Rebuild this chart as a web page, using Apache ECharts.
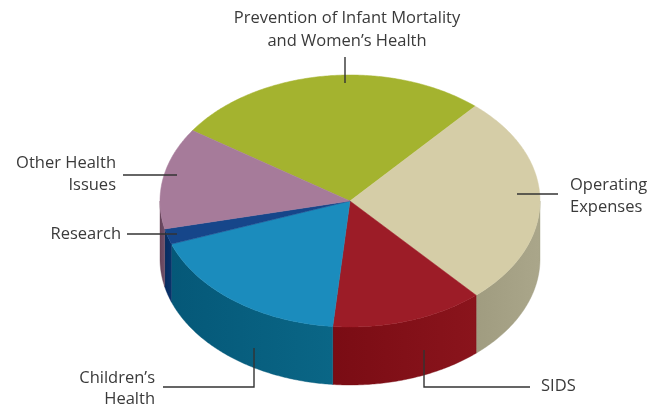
<!DOCTYPE html>
<html>
<head>
<meta charset="utf-8">
<script src="https://cdn.jsdelivr.net/npm/echarts@6/dist/echarts.min.js"></script>
<style>
html, body { margin: 0; padding: 0; background: #fff; }
#main { width: 664px; height: 408px; }
</style>
</head>
<body>
<div id="main"></div>
<script>
// slices, clockwise from the green one
var categories = [
  "Prevention of Infant Mortality and Women’s Health",
  "Operating Expenses",
  "SIDS",
  "Children’s Health",
  "Research",
  "Other Health Issues"
];
var shares = [27, 27, 13, 18, 2, 13];

// colours: top face, side (left end, right end)
var topColors = ["#a4b32f", "#d5cda7", "#9c1c27", "#1b8cbd", "#16468a", "#a67b9a"];
var sideColors = [
  ["#7c8722", "#8a9628"],
  ["#a09c80", "#aaa68a"],
  ["#7a0c14", "#8a141c"],
  ["#055878", "#0a6686"],
  ["#062c60", "#0a336c"],
  ["#664359", "#70506a"]
];

var cx = 350, cy = 201, rx = 190, ry = 126, depth = 58;
var startAngle = 146;
var total = shares.reduce(function (a, b) { return a + b; }, 0);

function rim(t, dy) {
  return [cx + rx * Math.cos(t), cy - ry * Math.sin(t) + dy];
}

function renderSlice(params, api) {
  var i = params.dataIndex;
  var before = 0;
  for (var k = 0; k < i; k++) before += shares[k];
  var a0 = (startAngle - before / total * 360) * Math.PI / 180;
  var a1 = (startAngle - (before + api.value(0)) / total * 360) * Math.PI / 180;
  var children = [];

  // side wall: only the front half (angles in [-PI, 0] + 2kPI)
  for (var m = -1; m <= 1; m++) {
    var lo = Math.max(a1, -Math.PI + 2 * m * Math.PI);
    var hi = Math.min(a0, 2 * m * Math.PI);
    if (hi - lo < 1e-4) continue;
    var n = Math.max(2, Math.ceil((hi - lo) / 0.01));
    var pts = [], j;
    for (j = 0; j <= n; j++) pts.push(rim(hi - (hi - lo) * j / n, 0));
    for (j = n; j >= 0; j--) pts.push(rim(hi - (hi - lo) * j / n, depth));
    var xs = pts.map(function (p) { return p[0]; });
    var x0 = Math.min.apply(null, xs), x1 = Math.max.apply(null, xs);
    children.push({
      type: 'polygon',
      shape: { points: pts },
      style: {
        fill: new echarts.graphic.LinearGradient(x0, 0, x1, 0, [
          { offset: 0, color: sideColors[i][0] },
          { offset: 1, color: sideColors[i][1] }
        ], true),
        stroke: sideColors[i][0],
        lineWidth: 0.4
      }
    });
  }

  // top face
  var steps = Math.max(2, Math.ceil((a0 - a1) / 0.01));
  var top = [[cx, cy]];
  for (var s = 0; s <= steps; s++) top.push(rim(a0 + (a1 - a0) * s / steps, 0));
  children.push({
    type: 'polygon',
    shape: { points: top },
    style: { fill: topColors[i], stroke: topColors[i], lineWidth: 0.5 }
  });

  return { type: 'group', children: children };
}

var textStyle = { fontSize: 16.5, fontFamily: 'Open Sans', fill: '#3a3a3a' };
function label(x, y, text, align, lh) {
  return {
    type: 'text', x: x, y: y, z: 10,
    style: Object.assign({ text: text, align: align, verticalAlign: 'middle', lineHeight: lh }, textStyle)
  };
}
function leader(points) {
  return {
    type: 'polyline', z: 10,
    shape: { points: points },
    style: { stroke: '#333', lineWidth: 1.4, fill: null }
  };
}

var chart = echarts.init(document.getElementById('main'));
chart.setOption({
  animation: false,
  series: [{
    type: 'custom',
    coordinateSystem: 'none',
    renderItem: renderSlice,
    data: shares.map(function (v, i) { return { name: categories[i], value: [v] }; })
  }],
  graphic: [
    leader([[345, 57], [345, 83]]),
    leader([[123, 175], [177, 175]]),
    leader([[127, 234], [177, 234]]),
    leader([[517, 194], [558, 194]]),
    leader([[424, 350], [424, 387], [530, 387]]),
    leader([[254, 348], [254, 387], [163, 387]]),
    label(347, 29.5, "Prevention of Infant Mortality\nand Women’s Health", 'center', 23),
    label(116, 174, "Other Health\nIssues", 'right', 22),
    label(121, 234, "Research", 'right', 22),
    label(570, 196, "Operating\nExpenses", 'left', 22),
    label(541, 386, "SIDS", 'left', 22),
    label(155, 388.5, "Children’s\nHealth", 'right', 21)
  ]
});
</script>
</body>
</html>
